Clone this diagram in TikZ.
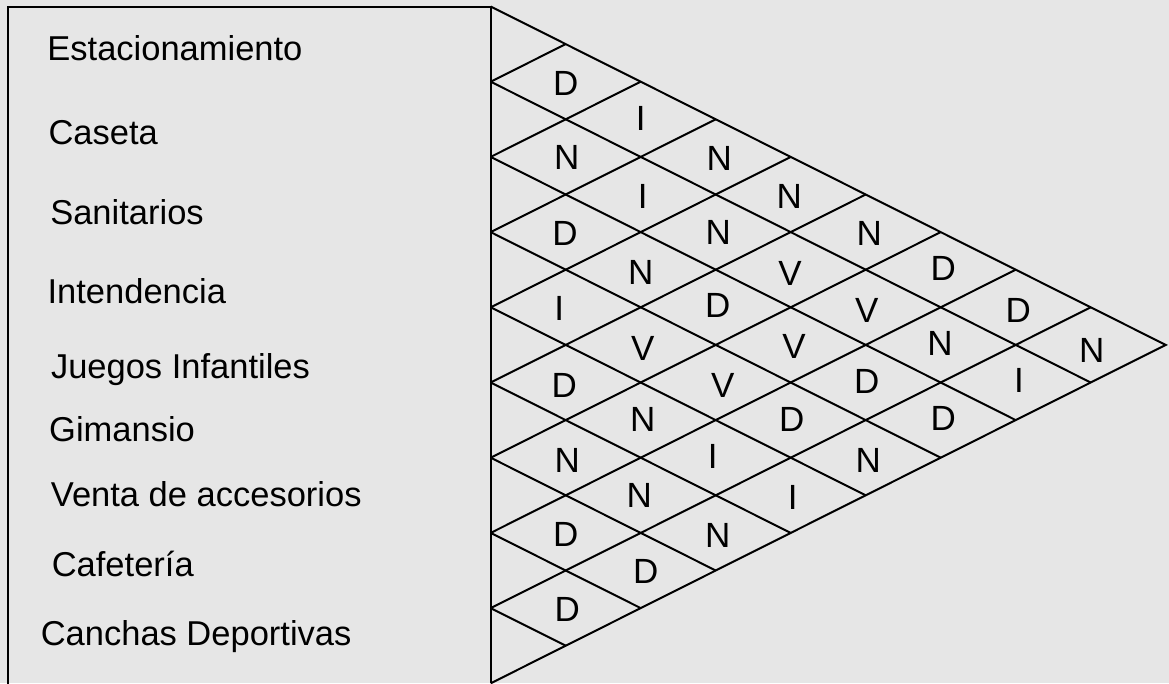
\documentclass[tikz,border=0pt]{standalone}
\usepackage{fontspec}
\setmainfont{Liberation Sans}
\definecolor{bgc}{RGB}{230,230,230}
\begin{document}
\begin{tikzpicture}[x=1pt,y=-1pt,
  frame/.style={line width=2pt, line join=miter},
  gridline/.style={line width=2pt},
  lbl/.style={anchor=base west, inner sep=0pt, font=\fontsize{34.5}{40}\selectfont},
  cell/.style={inner sep=0pt, font=\fontsize{35}{40}\selectfont}]
\fill[bgc] (0,0) rectangle (1169,683);
\useasboundingbox (0,0) rectangle (1169,683);
% grid points
\coordinate (tip) at (1165.7,344.9);
\coordinate (RT) at (8.3,6.5);
\coordinate (RB) at (8.3,684);
\foreach \k in {0,...,9}{
  \coordinate (L\k) at (490.7,{6.5+\k*75.2});
  \coordinate (P\k) at ({490.7+\k*75},{6.5+\k*37.6});
  \coordinate (Q\k) at ({490.7+\k*75},{683.3-\k*37.6});
}
% list frame
\draw[frame] (RB) -- (RT) -- (L0) -- (L9);
% triangle
\draw[frame] (L0) -- (tip) -- (L9);
% inner lines
\foreach \k in {1,...,8}{
  \pgfmathtruncatemacro\m{9-\k}
  \draw[gridline] (L\k) -- (P\k);
  \draw[gridline] (L\k) -- (Q\m);
}
% row labels
\node[lbl] (n1) at (47.2,60) {Estacionamiento};
\node[lbl] (n2) at (48.3,144) {Caseta};
\node[lbl] (n3) at (50.1,224) {Sanitarios};
\node[lbl] (n4) at (47.4,303) {Intendencia};
\node[lbl] (n5) at (50.8,378) {Juegos Infantiles};
\node[lbl] (n6) at (49,441.7) {Gimansio};
\node[lbl] (n7) at (50.7,506.7) {Venta de accesorios};
\node[lbl] (n8) at (51.6,576.7) {Cafetería};
\node[lbl] (n9) at (40.6,645) {Canchas Deportivas};
% cell letters: column 1
\node[cell] (c1r0) at (565.7,83.3) {D};
\node[cell] (c1r1) at (566.7,157.8) {N};
\node[cell] (c1r2) at (565,233.3) {D};
\node[cell] (c1r3) at (559.3,308.3) {I};
\node[cell] (c1r4) at (564.3,385) {D};
\node[cell] (c1r5) at (567.3,460.3) {N};
\node[cell] (c1r6) at (565.7,534.7) {D};
\node[cell] (c1r7) at (567.3,609.7) {D};
% column 2
\node[cell] (c2r0) at (640.7,118.5) {I};
\node[cell] (c2r1) at (642.7,196) {I};
\node[cell] (c2r2) at (640.7,272.7) {N};
\node[cell] (c2r3) at (642.7,348.3) {V};
\node[cell] (c2r4) at (642.7,419) {N};
\node[cell] (c2r5) at (639.3,495.7) {N};
\node[cell] (c2r6) at (645.7,571.3) {D};
% column 3
\node[cell] (c3r0) at (719.3,158) {N};
\node[cell] (c3r1) at (718.3,232.7) {N};
\node[cell] (c3r2) at (717.7,305) {D};
\node[cell] (c3r3) at (722.7,385) {V};
\node[cell] (c3r4) at (712.7,456.3) {I};
\node[cell] (c3r5) at (717.7,535.7) {N};
% column 4
\node[cell] (c4r0) at (789.3,196.7) {N};
\node[cell] (c4r1) at (790,273.3) {V};
\node[cell] (c4r2) at (794,346.7) {V};
\node[cell] (c4r3) at (791.7,419.7) {D};
\node[cell] (c4r4) at (792.7,497) {I};
% column 5
\node[cell] (c5r0) at (869.3,233.3) {N};
\node[cell] (c5r1) at (866.7,310) {V};
\node[cell] (c5r2) at (866.7,381.7) {D};
\node[cell] (c5r3) at (868.3,460) {N};
% column 6
\node[cell] (c6r0) at (943.3,268.3) {D};
\node[cell] (c6r1) at (940,343.3) {N};
\node[cell] (c6r2) at (943.3,418.3) {D};
% column 7
\node[cell] (c7r0) at (1018.3,310) {D};
\node[cell] (c7r1) at (1019,380) {I};
% column 8
\node[cell] (c8r0) at (1091.7,350) {N};
\end{tikzpicture}
\end{document}
